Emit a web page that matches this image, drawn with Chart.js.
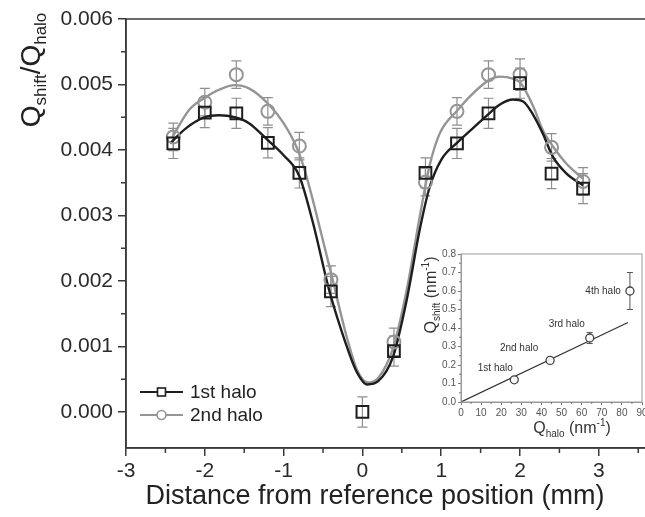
<!DOCTYPE html>
<html><head><meta charset="utf-8">
<script src="https://cdn.jsdelivr.net/npm/chart.js@4/dist/chart.umd.min.js"></script>
<style>
html,body{margin:0;padding:0;background:#fff;overflow:hidden;width:645px;height:517px;}
#main{position:absolute;left:0;top:0;width:700px;height:517px;}
#inset{position:absolute;left:410px;top:240px;width:260px;height:210px;}
</style></head><body>
<canvas id="main" width="700" height="517"></canvas>
<canvas id="inset" width="260" height="210"></canvas>
<script>
// ---------- data (main chart) ----------
const positions = [-2.4,-2.0,-1.6,-1.2,-0.8,-0.4,0.0,0.4,0.8,1.2,1.6,2.0,2.4,2.8];
const halo1 = [0.00410,0.00457,0.00456,0.00411,0.00365,0.00184,0.00000,0.00093,0.00365,0.00410,0.00456,0.00502,0.00364,0.00341];
const halo1Err = [0.00023,0.00023,0.00023,0.00023,0.00023,0.00023,0.00023,0.00023,0.00023,0.00023,0.00023,0.00023,0.00023,0.00023];
const halo2 = [0.00420,0.00473,0.00515,0.00459,0.00406,0.00202,null,0.00107,0.00351,0.00459,0.00515,0.00515,0.00404,0.00352];
const halo2Err = [0.00021,0.00021,0.00021,0.00021,0.00021,0.00021,null,0.00021,0.00021,0.00021,0.00021,0.00024,0.00021,0.00021];
const fit1X = [-2.44,-2.24,-2.0,-1.82,-1.62,-1.44,-1.2,-1.0,-0.8,-0.63,-0.42,-0.21,-0.08,0.06,0.2,0.39,0.56,0.73,0.85,1.0,1.21,1.4,1.61,1.74,1.91,2.04,2.17,2.29,2.42,2.59,2.8];
const fit1Y = [0.00410,0.00433,0.00450,0.00453,0.00450,0.00441,0.00415,0.00392,0.00360,0.00290,0.00185,0.00104,0.00063,0.00042,0.00047,0.00085,0.00170,0.00280,0.00342,0.00385,0.00412,0.00433,0.00456,0.00469,0.00477,0.00474,0.00453,0.00425,0.00389,0.00364,0.00346];
const fit2X = [-2.41,-2.2,-2.01,-1.82,-1.62,-1.44,-1.2,-1.0,-0.82,-0.72,-0.6,-0.38,-0.2,-0.06,0.07,0.2,0.39,0.56,0.73,0.85,0.98,1.21,1.4,1.61,1.74,1.91,2.01,2.17,2.29,2.42,2.59,2.8];
const fit2Y = [0.00420,0.00461,0.00479,0.00492,0.00499,0.00494,0.00471,0.00441,0.00400,0.00364,0.00310,0.00203,0.00115,0.00062,0.00045,0.00052,0.00098,0.00185,0.00300,0.00375,0.00425,0.00461,0.00486,0.00507,0.00512,0.00509,0.00502,0.00466,0.00430,0.00405,0.00379,0.00356];
const seriesNames = ['1st halo','2nd halo'];
const xTickValues = [-3,-2,-1,0,1,2,3];
const yTickValues = [0,0.001,0.002,0.003,0.004,0.005,0.006];

// ---------- data (inset) ----------
const insetQhalo = [26.5,44.3,64.0,84.0];
const insetQshift = [0.120,0.225,0.346,0.600];
const insetErr = [0.010,0.008,0.030,0.100];
const insetLabels = ['1st halo','2nd halo','3rd halo','4th halo'];
const insetFitX = [0,83];
const insetFitY = [0,0.43];
const insetXTicks = [0,10,20,30,40,50,60,70,80,90];
const insetYTicks = [0.0,0.1,0.2,0.3,0.4,0.5,0.6,0.7,0.8];

// ---------- styles ----------
const FONT = "'Liberation Sans', Arial, Helvetica, sans-serif";
const C1 = '#1e1e1e', C2 = '#959595', ERR = '#8f8f8f', AX = '#3a3a3a';
const insetLabelOffsets = [[-19,-12,'center'],[-31,-12,'center'],[-23,-14,'center'],[-9,0,'right']];
Chart.defaults.animation = false;

const errorBarPlugin = {
  id:'errbars',
  beforeDatasetsDraw(chart, args, opts){
    const ctx = chart.ctx, ys = chart.scales.y;
    chart.data.datasets.forEach((ds,i)=>{
      if(!ds.errorBars) return;
      const meta = chart.getDatasetMeta(i);
      ctx.save();
      ctx.strokeStyle = opts.color || ERR; ctx.lineWidth = opts.width || 1.2;
      meta.data.forEach((pt,j)=>{
        const v = ds.data[j].y, e = ds.errorBars[j];
        if(v==null||e==null) return;
        const x = pt.x, y1 = ys.getPixelForValue(v+e), y2 = ys.getPixelForValue(v-e), w = opts.cap||5;
        ctx.beginPath();
        ctx.moveTo(x,y1); ctx.lineTo(x,y2);
        ctx.moveTo(x-w,y1); ctx.lineTo(x+w,y1);
        ctx.moveTo(x-w,y2); ctx.lineTo(x+w,y2);
        ctx.stroke();
      });
      ctx.restore();
    });
  }
};

function minorTicks(ctx, chart, xs, ys, xMinor, yMinor, len, color, lw){
  ctx.save(); ctx.strokeStyle=color; ctx.lineWidth=lw;
  const a = chart.chartArea;
  ctx.beginPath();
  xMinor.forEach(v=>{const p=xs.getPixelForValue(v); ctx.moveTo(p,a.bottom); ctx.lineTo(p,a.bottom+len);});
  yMinor.forEach(v=>{const p=ys.getPixelForValue(v); ctx.moveTo(a.left,p); ctx.lineTo(a.left-len,p);});
  ctx.stroke(); ctx.restore();
}
function mids(arr){ const r=[]; for(let i=0;i<arr.length-1;i++) r.push((arr[i]+arr[i+1])/2); return r; }

function drawSubText(ctx, parts, x, y, align){
  // parts: [text, size, dy]
  let total=0;
  parts.forEach(p=>{ctx.font = p[1]+'px '+FONT; total += ctx.measureText(p[0]).width;});
  let cx = align==='center' ? x-total/2 : x;
  parts.forEach(p=>{ctx.font = p[1]+'px '+FONT; ctx.fillText(p[0], cx, y+p[2]); cx += ctx.measureText(p[0]).width;});
}

const mainDecor = {
  id:'mainDecor',
  afterDraw(chart){
    const ctx = chart.ctx, a = chart.chartArea, xs = chart.scales.x, ys = chart.scales.y;
    ctx.save();
    ctx.strokeStyle = AX; ctx.lineWidth = 1.5;
    ctx.strokeRect(a.left, a.top, a.right-a.left, a.bottom-a.top);
    ctx.restore();
    const xm = mids(xTickValues); xm.push(xTickValues[xTickValues.length-1]+0.5);
    minorTicks(ctx, chart, xs, ys, xm, mids(yTickValues), 5, AX, 1.5);
    // axis titles
    ctx.save(); ctx.fillStyle = '#222'; ctx.textBaseline='alphabetic';
    ctx.font = '27px '+FONT; ctx.textAlign='center';
    ctx.fillText('Distance from reference position (mm)', 375, 504);
    ctx.textAlign='left';
    ctx.translate(40, 70); ctx.rotate(-Math.PI/2);
    drawSubText(ctx, [['Q',28,0],['shift',17,6],['/Q',28,0],['halo',17,6]], 0, 0, 'center');
    ctx.restore();
    // legend
    ctx.save();
    const rows = [[392, C1, 'rect'],[415, C2, 'circle']];
    rows.forEach((r,i)=>{
      ctx.strokeStyle = r[1]; ctx.lineWidth = 2;
      ctx.beginPath(); ctx.moveTo(140,r[0]); ctx.lineTo(183,r[0]); ctx.stroke();
      ctx.fillStyle='#fff';
      if(r[2]==='rect'){ ctx.fillRect(157.5,r[0]-4,8,8); ctx.lineWidth=1.6; ctx.strokeRect(157.5,r[0]-4,8,8); }
      else { ctx.beginPath(); ctx.arc(161.5,r[0],4.5,0,Math.PI*2); ctx.fill(); ctx.lineWidth=1.6; ctx.stroke(); }
      ctx.fillStyle='#222'; ctx.font='19px '+FONT; ctx.textBaseline='middle'; ctx.textAlign='left';
      ctx.fillText(seriesNames[i], 190, r[0]+1);
    });
    ctx.restore();
  }
};

const mainChart = new Chart(document.getElementById('main'), {
  type:'scatter',
  data:{ datasets:[
    {label:seriesNames[0], data:positions.map((x,i)=>({x:x,y:halo1[i]})), errorBars:halo1Err, showLine:false,
     pointStyle:'rect', pointRadius:8.3, pointBorderWidth:2, borderColor:C1, pointBorderColor:C1, pointBackgroundColor:'rgba(255,255,255,0)', order:1},
    {label:seriesNames[1], data:positions.map((x,i)=>({x:x,y:halo2[i]})), errorBars:halo2Err, showLine:false,
     pointStyle:'circle', pointRadius:6.5, pointBorderWidth:2, borderColor:C2, pointBorderColor:C2, pointBackgroundColor:'rgba(255,255,255,0)', order:2},
    {label:'fit 1', data:fit1X.map((x,i)=>({x:x,y:fit1Y[i]})), showLine:true, pointRadius:0, borderColor:C1, borderWidth:2.4, cubicInterpolationMode:'monotone', order:3},
    {label:'fit 2', data:fit2X.map((x,i)=>({x:x,y:fit2Y[i]})), showLine:true, pointRadius:0, borderColor:C2, borderWidth:2.4, cubicInterpolationMode:'monotone', order:4}
  ]},
  options:{
    responsive:false, maintainAspectRatio:false,
    layout:{padding:{left:0,top:19,right:46,bottom:0}},
    plugins:{legend:{display:false}, tooltip:{enabled:false}, errbars:{color:ERR,width:1.2,cap:5}},
    scales:{
      x:{type:'linear', min:-3, max:3.7,
         afterBuildTicks:s=>{s.ticks = xTickValues.map(v=>({value:v}));},
         afterFit:s=>{s.height = 69;},
         grid:{display:true, drawOnChartArea:false, drawTicks:true, tickLength:8, color:AX, lineWidth:1.5},
         border:{display:true, color:AX, width:1.5},
         ticks:{font:{family:FONT,size:21}, color:'#2a2a2a', padding:3, maxRotation:0, autoSkip:false, callback:v=>String(v)}},
      y:{type:'linear', min:-0.00055, max:0.006,
         afterBuildTicks:s=>{s.ticks = yTickValues.map(v=>({value:v}));},
         afterFit:s=>{s.width = 126;},
         grid:{display:true, drawOnChartArea:false, drawTicks:true, tickLength:8, color:AX, lineWidth:1.5},
         border:{display:true, color:AX, width:1.5},
         ticks:{font:{family:FONT,size:21}, color:'#2a2a2a', padding:5, autoSkip:false, callback:v=>v.toFixed(3)}}
    }
  },
  plugins:[errorBarPlugin, mainDecor]
});

// ---------- inset ----------
const insetDecor = {
  id:'insetDecor',
  afterDraw(chart){
    const ctx = chart.ctx, a = chart.chartArea, xs = chart.scales.x, ys = chart.scales.y;
    ctx.save(); ctx.strokeStyle='#9a9a9a'; ctx.lineWidth=1;
    ctx.strokeRect(a.left, a.top, a.right-a.left, a.bottom-a.top); ctx.restore();
    minorTicks(ctx, chart, xs, ys, mids(insetXTicks), mids(insetYTicks), 2, '#777', 1);
    // point labels
    const meta = chart.getDatasetMeta(0);
    ctx.save(); ctx.fillStyle='#333'; ctx.font='10px '+FONT; ctx.textBaseline='middle';
    meta.data.forEach((pt,i)=>{
      const o = insetLabelOffsets[i]; ctx.textAlign=o[2];
      ctx.fillText(insetLabels[i], pt.x+o[0], pt.y+o[1]);
    });
    ctx.restore();
    // titles
    ctx.save(); ctx.fillStyle='#333'; ctx.textBaseline='alphabetic'; ctx.textAlign='left';
    drawSubText(ctx, [['Q',16,0],['halo',10,4],[' (nm',16,0],['-1',10,-7],[')',16,0]], 162, 193, 'center');
    ctx.translate(26, 55); ctx.rotate(-Math.PI/2);
    drawSubText(ctx, [['Q',16,0],['shift',10,4],[' (nm',16,0],['-1',10,-7],[')',16,0]], 0, 0, 'center');
    ctx.restore();
  }
};
const insetChart = new Chart(document.getElementById('inset'), {
  type:'scatter',
  data:{ datasets:[
    {label:'Q_shift', data:insetQhalo.map((x,i)=>({x:x,y:insetQshift[i]})), errorBars:insetErr, showLine:false,
     pointStyle:'circle', pointRadius:4, pointBorderWidth:1.3, pointBorderColor:'#444', pointBackgroundColor:'rgba(255,255,255,0.9)', order:1},
    {label:'fit', data:insetFitX.map((x,i)=>({x:x,y:insetFitY[i]})), showLine:true, pointRadius:0, borderColor:'#333', borderWidth:1.2, order:2}
  ]},
  options:{
    responsive:false, maintainAspectRatio:false,
    layout:{padding:{left:0,top:14,right:28,bottom:0}},
    plugins:{legend:{display:false}, tooltip:{enabled:false}, errbars:{color:'#555',width:1,cap:3}},
    scales:{
      x:{type:'linear', min:0, max:90,
         afterBuildTicks:s=>{s.ticks = insetXTicks.map(v=>({value:v}));},
         afterFit:s=>{s.height = 48;},
         grid:{display:true, drawOnChartArea:false, drawTicks:true, tickLength:3, color:'#777', lineWidth:1},
         border:{display:true, color:'#9a9a9a', width:1},
         ticks:{font:{family:FONT,size:10}, color:'#555', padding:2, maxRotation:0, autoSkip:false, callback:v=>String(v)}},
      y:{type:'linear', min:0, max:0.8,
         afterBuildTicks:s=>{s.ticks = insetYTicks.map(v=>({value:v}));},
         afterFit:s=>{s.width = 51;},
         grid:{display:true, drawOnChartArea:false, drawTicks:true, tickLength:3, color:'#777', lineWidth:1},
         border:{display:true, color:'#9a9a9a', width:1},
         ticks:{font:{family:FONT,size:10}, color:'#555', padding:2, autoSkip:false, callback:v=>v.toFixed(1)}}
    }
  },
  plugins:[errorBarPlugin, insetDecor]
});
</script>
</body></html>
